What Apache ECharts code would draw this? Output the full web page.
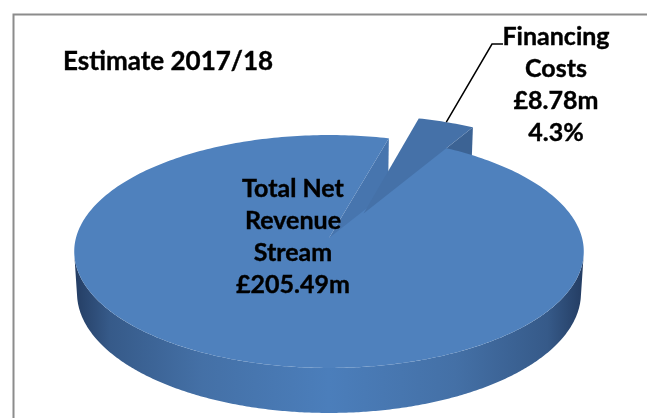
<!DOCTYPE html>
<html>
<head>
<meta charset="utf-8">
<script src="https://cdn.jsdelivr.net/npm/echarts@6/dist/echarts.min.js"></script>
<style>
  html, body { margin: 0; padding: 0; background: #fff; }
  #chart { width: 647px; height: 418px; }
</style>
</head>
<body>
<div id="chart"></div>
<script>
// values
const titleText = 'Estimate 2017/18';
const categories = ['Total Net\nRevenue\nStream', 'Financing\nCosts'];
const amounts = [205.49, 8.78];      // £m
const shareLabels = ['', '4.3%'];
const exploded = [0, 0.26];          // how far each slice is pulled out (radius fraction)

const FIRST_SLICE_ANGLE = 30;        // deg, clockwise from 12 o'clock
const EXPLODE_SKEW = 10;
const FONT = 'Lato, "Open Sans", sans-serif';

// rough excel-like 3d view: perspective camera looking down on a unit disc
const view = {cx: 329, cy: 238, f: 1946, dist: 7.69, elev: 27, thick: 0.185};
const rad = d => d * Math.PI / 180;
const sinE = Math.sin(rad(view.elev)), cosE = Math.cos(rad(view.elev));
function project(X, Y, Z) {
    const depth = Y * cosE - Z * sinE + view.dist;
    const up = Y * sinE + Z * cosE;
    return [view.cx + view.f * X / depth, view.cy - view.f * up / depth];
}

const total = amounts.reduce((s, v) => s + v, 0);
const slices = [];
let acc = FIRST_SLICE_ANGLE;
amounts.forEach(v => {
    const span = v / total * 360;
    slices.push({a: acc, b: acc + span});
    acc += span;
});

const labelLayout = [
    {x: 293, y: 237, leader: null},
    {x: 556, y: 85, leader: [[503, 44], [492, 44]]}
];

const topColors = ['#4f81bd', '#4571a8'];
const cutColors = ['#4775ae', '#3c6394'];
const sideFill = {
    type: 'linear', x: 74, y: 0, x2: 583, y2: 0, global: true,
    colorStops: [
        {offset: 0, color: '#243d63'},
        {offset: 0.07, color: '#365a89'},
        {offset: 0.25, color: '#4470a6'},
        {offset: 0.5, color: '#4b7ebb'},
        {offset: 0.75, color: '#4470a6'},
        {offset: 0.93, color: '#365a89'},
        {offset: 1, color: '#243d63'}
    ]
};

function angles(a, b, step) {
    const list = [];
    for (let t = a; t < b; t += step) list.push(t);
    list.push(b);
    return list;
}

function renderSlice(params) {
    const i = params.dataIndex;
    const {a, b} = slices[i];
    const dir = rad((a + b) / 2 + EXPLODE_SKEW);
    const ex = exploded[i] * Math.sin(dir), ey = exploded[i] * Math.cos(dir);
    const H = -view.thick;
    const rim = (t, z) => project(Math.sin(rad(t)) + ex, Math.cos(rad(t)) + ey, z);
    const apex = z => project(ex, ey, z);
    const camY = -view.dist * cosE;
    const children = [];

    // outer wall, only the parts facing the camera
    let run = [];
    const flush = () => {
        if (run.length > 1) {
            const pts = run.map(t => rim(t, 0)).concat(run.slice().reverse().map(t => rim(t, H)));
            children.push({type: 'polygon', z2: 1, shape: {points: pts}, style: {fill: sideFill}});
        }
        run = [];
    };
    angles(a, b, 0.5).forEach(t => {
        const facing = -1 - ex * Math.sin(rad(t)) - (view.dist * cosE + ey) * Math.cos(rad(t));
        if (facing > 0) run.push(t); else flush();
    });
    flush();

    // the two cut faces
    [[a, -Math.cos(rad(a)), Math.sin(rad(a))], [b, Math.cos(rad(b)), -Math.sin(rad(b))]].forEach(([t, nx, ny]) => {
        if (nx * -ex + ny * (camY - ey) <= 0) return;
        children.push({
            type: 'polygon', z2: 2,
            shape: {points: [apex(0), rim(t, 0), rim(t, H), apex(H)]},
            style: {fill: cutColors[i]}
        });
    });

    // top face
    children.push({
        type: 'polygon', z2: 3,
        shape: {points: [apex(0)].concat(angles(a, b, 1).map(t => rim(t, 0)))},
        style: {fill: topColors[i]}
    });

    // label
    const lay = labelLayout[i];
    let text = categories[i] + '\n£' + amounts[i].toFixed(2) + 'm';
    if (shareLabels[i]) text += '\n' + shareLabels[i];
    children.push({
        type: 'text', z2: 5, x: lay.x, y: lay.y,
        style: {
            text: text, fill: '#000', font: 'bold 25px ' + FONT,
            align: 'center', verticalAlign: 'middle', lineHeight: 32,
            stroke: '#000', lineWidth: 0.4
        }
    });
    if (lay.leader) {
        children.push({
            type: 'polyline', z2: 4,
            shape: {points: lay.leader.concat([rim((a + b) / 2, 0)])},
            style: {stroke: '#000', lineWidth: 1.5, fill: null}
        });
    }
    return {type: 'group', children: children};
}

const chart = echarts.init(document.getElementById('chart'));
chart.setOption({
    animation: false,
    title: {
        text: titleText, left: 58, top: 44,
        textStyle: {
            fontFamily: FONT, fontSize: 26, fontWeight: 'bold', color: '#000',
            textBorderColor: '#000', textBorderWidth: 0.4
        }
    },
    graphic: [{
        type: 'rect', left: 11, top: 12, z: -1,
        shape: {width: 700, height: 500},
        style: {fill: null, stroke: '#8c8c8c', lineWidth: 2}
    }],
    series: [{
        type: 'custom',
        coordinateSystem: 'none',
        renderItem: renderSlice,
        data: amounts.map((v, i) => ({name: categories[i], value: v}))
    }]
});
</script>
</body>
</html>
